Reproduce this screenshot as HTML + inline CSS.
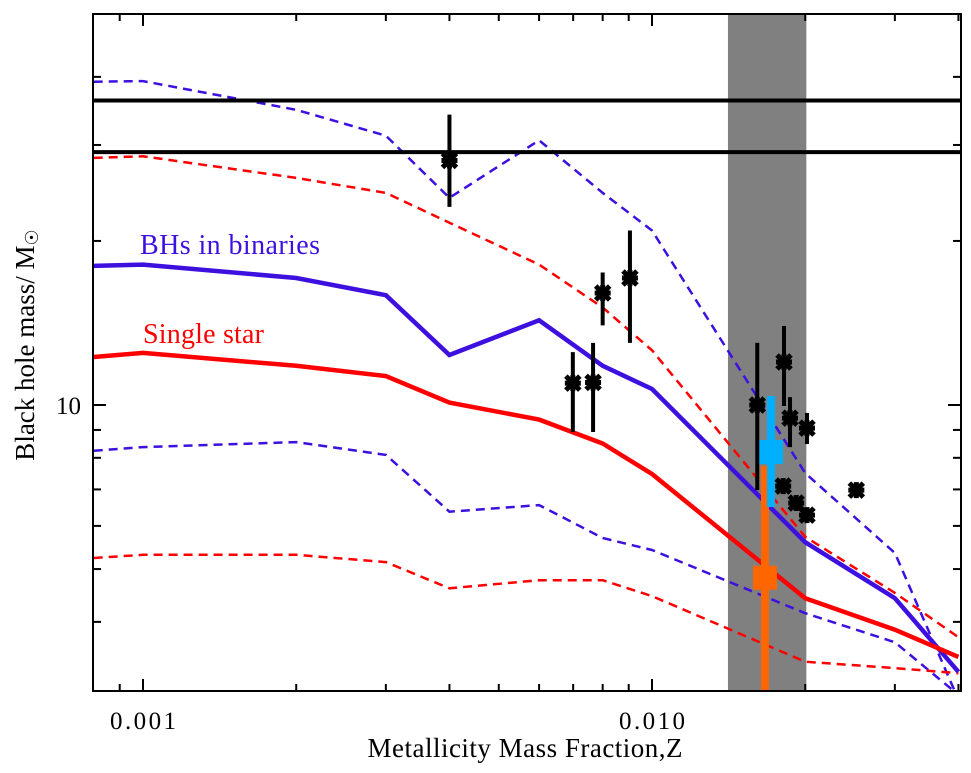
<!DOCTYPE html>
<html><head><meta charset="utf-8"><style>
body{margin:0;background:#fff}
svg{display:block}
text{font-family:"Liberation Serif",serif}
</style></head><body>
<svg id="c" width="971" height="773" viewBox="0 0 971 773" xmlns="http://www.w3.org/2000/svg">
<defs><clipPath id="pc"><rect x="93" y="14" width="868" height="677"/></clipPath></defs>
<g id="plot" clip-path="url(#pc)"></g>
<g id="axes"></g>
<text x="140" y="254" font-size="28" textLength="180" fill="#3d10e0">BHs in binaries</text>
<text x="143" y="343" font-size="28" textLength="121" fill="#ff0000">Single star</text>
<text x="525" y="757" font-size="27" text-anchor="middle" textLength="315">Metallicity Mass Fraction,Z</text>
<text transform="translate(34,345) rotate(-90)" font-size="27" text-anchor="middle">Black hole mass/ M<tspan font-family="DejaVu Sans" font-size="18" dy="4">☉</tspan></text>
</svg>
<script>
const zGrid=[0.0008,0.001,0.002,0.003,0.004,0.006,0.008,0.01,0.02,0.03,0.04];
const binSolid=[18.0,18.1,17.1,15.9,12.35,14.3,11.8,10.7,5.6,4.42,3.24];
const sglSolid=[12.25,12.46,11.8,11.3,10.1,9.4,8.5,7.47,4.42,3.87,3.45];
const binUpper=[39.2,39.3,34.8,31.2,24.0,30.6,24.5,20.9,7.5,5.35,2.88];
const sglUpper=[28.4,28.6,26.1,24.5,21.6,18.1,15.1,12.6,5.73,4.52,3.75];
const binLower=[8.24,8.37,8.55,8.1,6.37,6.55,5.70,5.42,4.15,3.67,2.94];
const sglLower=[5.24,5.31,5.31,5.15,4.61,4.77,4.77,4.46,3.38,3.29,3.22];
const refLines=[36.2,29.1];
const bandZ=[0.0141,0.0201];
const obsZ=[0.004,0.00699,0.00766,0.0080,0.00905,0.0161,0.01817,0.01867,0.02016,0.0181,0.0192,0.02016,0.0252];
const obsM=[28.1,10.97,11.0,16.05,17.1,10.0,11.99,9.46,9.07,7.10,6.61,6.28,6.98];
const obsLo=[23.1,8.92,8.92,14.0,13.0,6.98,9.96,8.37,8.48,null,null,null,null];
const obsHi=[34.1,12.5,13.0,17.5,20.9,13.0,13.96,10.34,9.67,null,null,null,null];
const cyanPt={z:0.01713,m:8.2,lo:6.5,hi:10.39};
const orangePt={z:0.01667,m:4.82,lo:2.5,hi:7.73};
const xTickMajor=[0.001,0.01];
const xTickLabels=["0.001","0.010"];
const xTickMinor=[0.0009,0.002,0.003,0.004,0.005,0.006,0.007,0.008,0.009,0.02,0.03,0.04];
const yTickMajor=[10];
const yTickLabels=["10"];
const yTickMinor=[4,5,6,7,8,9,20,30,40];

const X=z=>143+509*Math.log10(z/0.001);
const Y=m=>405-545*Math.log10(m/10);
const NS="http://www.w3.org/2000/svg";
const plot=document.getElementById('plot'),axes=document.getElementById('axes');
function mk(tag,at,par){const e=document.createElementNS(NS,tag);for(const k in at)e.setAttribute(k,at[k]);par.appendChild(e);return e;}

let band=mk('rect',{x:X(bandZ[0]),y:14,width:X(bandZ[1])-X(bandZ[0]),height:677,fill:'#808080'},plot);



function line(vals,color,w,dash,name){
  const d=vals.map((v,i)=>(i?'L':'M')+X(zGrid[i]).toFixed(1)+','+Y(v).toFixed(1)).join('');
  const p=mk('path',{d:d,fill:'none',stroke:color,'stroke-width':w,'stroke-dasharray':dash||'none','stroke-linejoin':'miter'},plot);
  
  
}
line(binUpper,'#3d10e0',2.5,'9,6','binaries-upper-dashed');
line(sglUpper,'#ff0000',2.5,'9,6','single-upper-dashed');
line(binLower,'#3d10e0',2.5,'9,6','binaries-lower-dashed');
line(sglLower,'#ff0000',2.5,'9,6','single-lower-dashed');
line(binSolid,'#3d10e0',4.5,null,'binaries-median-line');
line(sglSolid,'#ff0000',4.5,null,'single-median-line');

refLines.forEach((m,i)=>{
  const l=mk('line',{x1:93,x2:961,y1:Y(m),y2:Y(m),stroke:'#000','stroke-width':4},plot);
  
  
});

function bigPt(p,color,name){
  const g=mk('g',{},plot);
  
  
  const x=X(p.z);
  mk('line',{x1:x,x2:x,y1:Y(p.hi),y2:Y(p.lo),stroke:color,'stroke-width':8},g);
  mk('rect',{x:x-12,y:Y(p.m)-12,width:24,height:24,fill:color},g);
}
bigPt(orangePt,'#ff6600','orange-measurement');
bigPt(cyanPt,'#00b0ff','cyan-measurement');

obsZ.forEach((z,i)=>{
  const g=mk('g',{},plot);
  
  
  const x=X(z),y=Y(obsM[i]);
  if(obsLo[i]!=null) mk('line',{x1:x,x2:x,y1:Y(obsHi[i]),y2:Y(obsLo[i]),stroke:'#000','stroke-width':4},g);
  const s=7;
  mk('path',{d:`M${x-s},${y-s}L${x+s},${y+s}M${x-s},${y+s}L${x+s},${y-s}M${x},${y-s-1}L${x},${y+s+1}M${x-s-1},${y}L${x+s+1},${y}`,stroke:'#000','stroke-width':5,fill:'none'},g);
});

let fr=mk('rect',{x:93,y:14,width:868,height:677,fill:'none',stroke:'#000','stroke-width':2},axes);


function tick(x1,y1,x2,y2){mk('line',{x1:x1,y1:y1,x2:x2,y2:y2,stroke:'#000','stroke-width':2},axes);}
xTickMajor.forEach((z,i)=>{const x=X(z);tick(x,691,x,679);tick(x,14,x,26);
  const t=mk('text',{x:x,y:729,'font-size':25,'text-anchor':'middle',textLength:66},axes);t.textContent=xTickLabels[i];
  
  });
xTickMinor.forEach(z=>{const x=X(z);tick(x,691,x,684);tick(x,14,x,21);});
yTickMajor.forEach((m,i)=>{const y=Y(m);tick(93,y,106,y);tick(961,y,948,y);
  const t=mk('text',{x:81,y:y+9,'font-size':25,'text-anchor':'end'},axes);t.textContent=yTickLabels[i];
  
  });
yTickMinor.forEach(m=>{const y=Y(m);tick(93,y,101,y);tick(961,y,953,y);});
</script>
</body></html>
